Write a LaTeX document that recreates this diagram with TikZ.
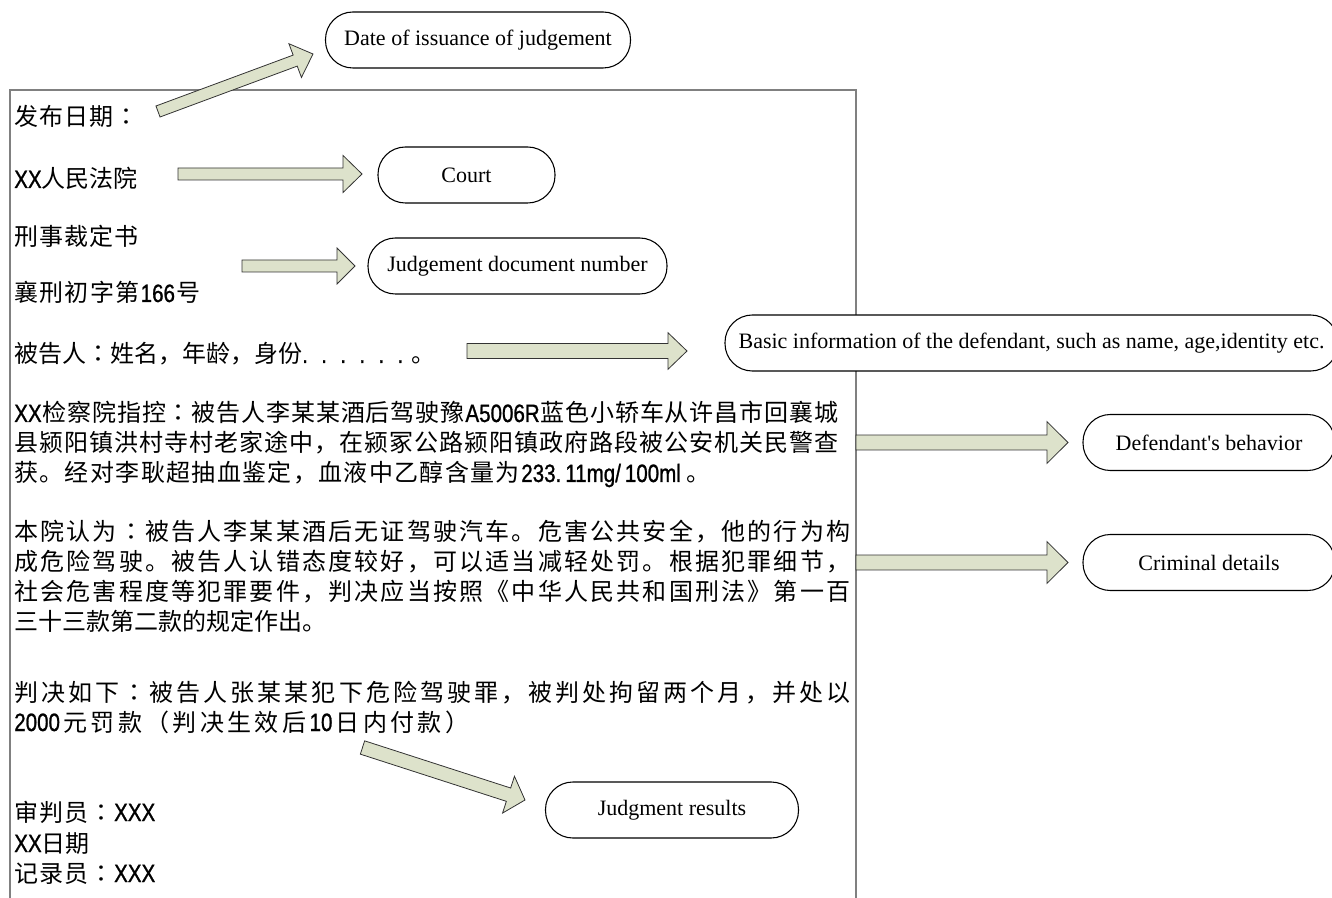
\documentclass[tikz,border=0pt]{standalone}
\usepackage{fontspec}
\setmainfont{Liberation Serif}
\newfontfamily\cjk{Noto Sans CJK SC}
\newfontfamily\cjkc{Noto Sans CJK TC}
\newfontfamily\lat{Liberation Sans}[FakeStretch=0.82, FakeBold=1]
\usetikzlibrary{calc}

\definecolor{arrowfill}{HTML}{DDE2CB}
\definecolor{arrowline}{HTML}{333333}
\definecolor{framegray}{HTML}{808080}

% set a line of CJK text to a given width (in px) by spreading its characters
\makeatletter
\newcommand\spreadline[2]{\hbox to \dimexpr #1pt*3/4\relax{\@tfor\sl@item:=#2\do{{\sl@item}\hfil}\unskip}}
\makeatother
% centred full-width colon
\newcommand\fwcolon{{\cjkc ：}}
% Latin runs inside the CJK lines
\newcommand\latrun[1]{{\lat\fontsize{18.8pt}{20pt}\selectfont #1}}

% block arrow from tail #1 to tip #2: shaft half width #3, head half width #4, head length #5
\newcommand\blockarrow[5]{%
  \coordinate (ba-h) at ($(#2)!#5!(#1)$);
  \draw[blockarrow] ($(#1)!#3!90:(#2)$) -- ($(ba-h)!#3!90:(#2)$) -- ($(ba-h)!#4!90:(#2)$)
    -- (#2) -- ($(ba-h)!#4!-90:(#2)$) -- ($(ba-h)!#3!-90:(#2)$) -- ($(#1)!#3!-90:(#2)$) -- cycle;
}

\tikzset{
  blockarrow/.style={draw=arrowline, line width=0.6pt, fill=arrowfill, line join=miter},
  docframe/.style={draw=framegray, line width=1.2pt},
  infobox/.style={draw=black, line width=0.8pt, fill=white, rounded corners=20.5pt,
    minimum height=42pt, inner sep=0pt, font=\fontsize{16.5pt}{18pt}\selectfont},
  cjkline/.style={anchor=base west, inner sep=0pt, font=\cjk\fontsize{18pt}{20pt}\selectfont},
}

\begin{document}
\begin{tikzpicture}[x=0.75pt, y=-0.75pt]
\useasboundingbox (0,0) rectangle (1332,898);

% document frame (open at the bottom)
\draw[docframe] (10,910) -- (10,90) -- (856,90) -- (856,910);

% document text
\node[cjkline] (l1) at (14,126) {\spreadline{124}{发布日期\fwcolon}};
\node[cjkline] (l2) at (14,188) {\spreadline{123}{{\latrun{XX}}人民法院}};
\node[cjkline] (l3) at (14,246) {\spreadline{124}{刑事裁定书}};
\node[cjkline] (l4) at (14,302) {\spreadline{186}{襄刑初字第{\latrun{166}}号}};
\node[cjkline] (l5) at (14,363) {\spreadline{404}{被告人\fwcolon 姓名，年龄，身份{\latrun{.\kern10pt.\kern10pt.\kern10pt.\kern10pt.\kern10pt.\kern6pt}}。}};

\node[cjkline] (p1a) at (14,422) {\spreadline{824}{{\latrun{XX}}检察院指控\fwcolon 被告人李某某酒后驾驶豫{\latrun{A5006R}}蓝色小轿车从许昌市回襄城}};
\node[cjkline] (p1b) at (14,452) {\spreadline{824}{县颍阳镇洪村寺村老家途中，在颍冢公路颍阳镇政府路段被公安机关民警查}};
\node[cjkline] (p1c) at (14,482) {\spreadline{696}{获。经对李耿超抽血鉴定，血液中乙醇含量为{\latrun{233.\kern3pt 11mg/\kern3pt 100ml\kern3pt}}。}};

\node[cjkline] (p2a) at (14,540) {\spreadline{836}{本院认为\fwcolon 被告人李某某酒后无证驾驶汽车。危害公共安全，他的行为构}};
\node[cjkline] (p2b) at (14,570) {\spreadline{836}{成危险驾驶。被告人认错态度较好，可以适当减轻处罚。根据犯罪细节，}};
\node[cjkline] (p2c) at (14,600) {\spreadline{836}{社会危害程度等犯罪要件，判决应当按照《中华人民共和国刑法》第一百}};
\node[cjkline] (p2d) at (14,630) {\spreadline{312}{三十三款第二款的规定作出。}};

\node[cjkline] (p3a) at (14,701) {\spreadline{836}{判决如下\fwcolon 被告人张某某犯下危险驾驶罪，被判处拘留两个月，并处以}};
\node[cjkline] (p3b) at (14,731) {\spreadline{455}{{\latrun{2000}}元罚款（判决生效后{\latrun{10}}日内付款）}};

\node[cjkline] (e1) at (14,821) {\spreadline{141}{审判员\fwcolon{\latrun{XXX}}}};
\node[cjkline] (e2) at (14,852) {\spreadline{75}{{\latrun{XX}}日期}};
\node[cjkline] (e3) at (14,882) {\spreadline{141}{记录员\fwcolon{\latrun{XXX}}}};

% annotation boxes
\node[infobox, minimum width=228.75pt] (date)  at (478,40)    {Date of issuance of judgement};
\node[infobox, minimum width=132.75pt] (court) at (466.5,175) {Court};
\node[infobox, minimum width=224.25pt] (docno) at (517.5,266) {Judgement document number};
\node[infobox, minimum width=459.75pt] (basic) at (1031.5,343) {Basic information of the defendant, such as name, age,identity etc.};
\node[infobox, minimum width=189pt]    (behav) at (1209,442.5) {Defendant\textquotesingle s behavior};
\node[infobox, minimum width=189pt]    (crim)  at (1209,562.5) {Criminal details};
\node[infobox, minimum width=189.75pt] (result) at (672,810)  {Judgment results};

% arrow end points
\coordinate (a1t) at (158,111.5);  \coordinate (a1h) at (313,54);
\coordinate (a2t) at (178,174);    \coordinate (a2h) at (362,174);
\coordinate (a3t) at (242,266);    \coordinate (a3h) at (355,266);
\coordinate (a4t) at (467,351);    \coordinate (a4h) at (687,351);
\coordinate (a5t) at (856,442.5);  \coordinate (a5h) at (1068,442.5);
\coordinate (a6t) at (856,562.5);  \coordinate (a6h) at (1068,562.5);
\coordinate (a7t) at (362.5,747.5); \coordinate (a7h) at (525,800);

% block arrows
\blockarrow{a1t}{a1h}{4.4pt}{13.5pt}{14.25pt}
\blockarrow{a2t}{a2h}{4.5pt}{13.9pt}{14.25pt}
\blockarrow{a3t}{a3h}{4.5pt}{13.5pt}{13.5pt}
\blockarrow{a4t}{a4h}{5.6pt}{13.7pt}{14.25pt}
\blockarrow{a5t}{a5h}{5.6pt}{15.6pt}{15.75pt}
\blockarrow{a6t}{a6h}{5.6pt}{15.6pt}{15.75pt}
\blockarrow{a7t}{a7h}{5.25pt}{14.5pt}{13pt}
\end{tikzpicture}
\end{document}
